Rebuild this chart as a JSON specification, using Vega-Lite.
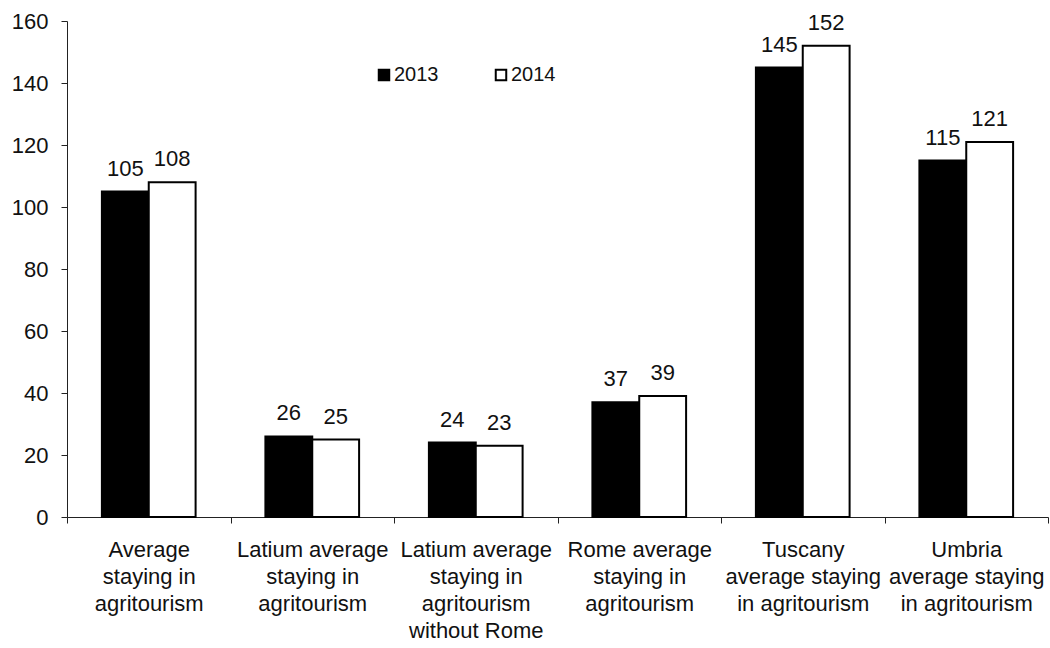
{
  "$schema": "https://vega.github.io/schema/vega-lite/v6.json",
  "width": 981,
  "height": 496,
  "autosize": {"type": "none"},
  "padding": {"left": 67, "top": 21, "right": 2, "bottom": 131},
  "background": "white",
  "config": {
    "font": "Liberation Sans",
    "view": {"stroke": null}
  },
  "data": {
    "values": [
      {"cat": "Average|staying in|agritourism", "order": 1, "year": "2013", "value": 105},
      {"cat": "Average|staying in|agritourism", "order": 1, "year": "2014", "value": 108},
      {"cat": "Latium average|staying in|agritourism", "order": 2, "year": "2013", "value": 26},
      {"cat": "Latium average|staying in|agritourism", "order": 2, "year": "2014", "value": 25},
      {"cat": "Latium average|staying in|agritourism|without Rome", "order": 3, "year": "2013", "value": 24},
      {"cat": "Latium average|staying in|agritourism|without Rome", "order": 3, "year": "2014", "value": 23},
      {"cat": "Rome average|staying in|agritourism", "order": 4, "year": "2013", "value": 37},
      {"cat": "Rome average|staying in|agritourism", "order": 4, "year": "2014", "value": 39},
      {"cat": "Tuscany|average staying|in agritourism", "order": 5, "year": "2013", "value": 145},
      {"cat": "Tuscany|average staying|in agritourism", "order": 5, "year": "2014", "value": 152},
      {"cat": "Umbria|average staying|in agritourism", "order": 6, "year": "2013", "value": 115},
      {"cat": "Umbria|average staying|in agritourism", "order": 6, "year": "2014", "value": 121}
    ]
  },
  "encoding": {
    "x": {
      "field": "cat",
      "type": "nominal",
      "sort": {"field": "order"},
      "scale": {"paddingInner": 0, "paddingOuter": 0},
      "axis": {
        "title": null,
        "labelAngle": 0,
        "tickBand": "extent",
        "labelExpr": "split(datum.label, '|')",
        "labelFontSize": 22,
        "labelLineHeight": 27,
        "labelColor": "#111",
        "labelLimit": 0,
        "labelPadding": 16,
        "labelBaseline": "top",
        "tickSize": 6,
        "tickColor": "#222",
        "domainColor": "#222",
        "labelOverlap": false
      }
    },
    "xOffset": {
      "field": "year",
      "type": "nominal",
      "scale": {"paddingInner": 0, "paddingOuter": 0.745}
    },
    "y": {
      "field": "value",
      "type": "quantitative",
      "scale": {"domain": [0, 160]},
      "axis": {
        "title": null,
        "values": [0, 20, 40, 60, 80, 100, 120, 140, 160],
        "grid": false,
        "labelFontSize": 22,
        "labelColor": "#111",
        "labelPadding": 13,
        "tickSize": 6,
        "tickColor": "#222",
        "domainColor": "#222"
      }
    }
  },
  "layer": [
    {
      "mark": {"type": "bar", "stroke": "black", "strokeWidth": 2},
      "encoding": {
        "fill": {
          "field": "year",
          "type": "nominal",
          "scale": {"domain": ["2013", "2014"], "range": ["black", "white"]},
          "legend": {
            "title": null,
            "orient": "none",
            "legendX": 307,
            "legendY": 44,
            "direction": "horizontal",
            "symbolType": "square",
            "symbolSize": 110,
            "symbolStrokeColor": "black",
            "symbolStrokeWidth": 2,
            "labelFontSize": 20,
            "labelColor": "#111",
            "labelOffset": 0,
            "columnPadding": 52
          }
        }
      }
    },
    {
      "mark": {"type": "text", "fontSize": 22, "baseline": "alphabetic", "dy": -16, "color": "#111"},
      "encoding": {
        "text": {"field": "value", "type": "quantitative"}
      }
    }
  ]
}
